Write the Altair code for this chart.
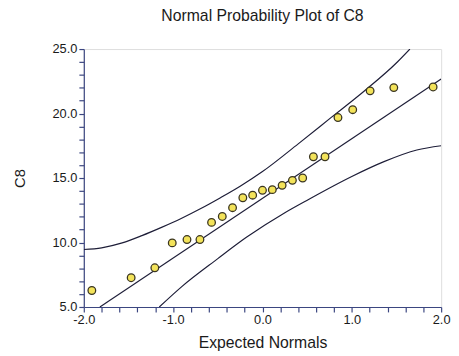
import altair as alt
import pandas as pd

normals = [-1.91, -1.47, -1.205, -1.01, -0.845, -0.70, -0.57, -0.45, -0.335, -0.22, -0.11, 0.0,
           0.11, 0.22, 0.335, 0.45, 0.57, 0.70, 0.845, 1.01, 1.205, 1.47, 1.91]
c8 = [6.28, 7.27, 8.04, 9.97, 10.23, 10.23, 11.56, 12.02, 12.70, 13.47, 13.67, 14.05,
      14.10, 14.43, 14.82, 15.0, 16.65, 16.65, 19.69, 20.30, 21.76, 22.01, 22.06]

# Fitted line (end points)
fit_x = [-1.82, 2.0]
fit_y = [5.0, 22.68]

# Upper confidence band
upper_x = [-2.0, -1.8, -1.57, -1.35, -1.13, -0.91, -0.69, -0.47, -0.25, 0.0, 0.4, 0.77, 1.14, 1.51, 1.65]
upper_y = [9.46, 9.59, 9.97, 10.53, 11.17, 11.86, 12.63, 13.47, 14.36, 15.5, 17.65, 19.7, 21.75, 24.0, 25.0]

# Lower confidence band
lower_x = [-1.155, -0.9, -0.5, -0.18, 0.26, 0.516, 0.994, 1.36, 1.728, 2.0]
lower_y = [5.0, 6.6, 8.75, 10.4, 12.35, 13.34, 15.1, 16.27, 17.17, 17.5]

x_ticks = [round(-2 + 0.2 * i, 1) for i in range(21)]
y_ticks = list(range(5, 26))

pts = pd.DataFrame({"x": normals, "y": c8})
fit = pd.DataFrame({"x": fit_x, "y": fit_y})
up = pd.DataFrame({"x": upper_x, "y": upper_y})
lo = pd.DataFrame({"x": lower_x, "y": lower_y})

FONT = "Liberation Sans"
AXIS_COL = "#3b4680"
LINE_COL = "#1e1e38"

xscale = alt.Scale(domain=[-2, 2], nice=False, zero=False)
yscale = alt.Scale(domain=[5, 25], nice=False, zero=False)

xaxis = alt.Axis(
    values=x_ticks, tickCount=60, title="Expected Normals", grid=False, labelOverlap=False,
    labelExpr="abs(datum.value - round(datum.value)) < 0.001 ? replace(format(datum.value, '.1f'), '\u2212', '-') : ''",
    domainColor=AXIS_COL, tickColor=AXIS_COL, tickSize=5, domainWidth=1.2, tickWidth=1.2,
    labelFont=FONT, labelFontSize=13, labelColor="#1a1a1a", labelPadding=2, labelFlush=False,
    titleFont=FONT, titleFontSize=16, titleFontWeight="normal", titleColor="#1a1a1a",
    titleY=41, titleBaseline="alphabetic",
)
yaxis = alt.Axis(
    values=y_ticks, tickCount=60, title="C8", grid=False, labelOverlap=False,
    labelExpr="datum.value % 5 == 0 ? format(datum.value, '.1f') : ''",
    domainColor=AXIS_COL, tickColor=AXIS_COL, tickSize=5, domainWidth=1.2, tickWidth=1.2,
    labelFont=FONT, labelFontSize=13, labelColor="#1a1a1a", labelPadding=2, labelFlush=False,
    titleFont=FONT, titleFontSize=15, titleFontWeight="normal", titleColor="#1a1a1a",
    titleX=-65, titleY=131, titleAngle=270, titleBaseline="middle", titleAlign="center",
)

fit_line = alt.Chart(fit).mark_line(color=LINE_COL, strokeWidth=1.2, clip=True).encode(
    x=alt.X("x:Q", scale=xscale, axis=xaxis),
    y=alt.Y("y:Q", scale=yscale, axis=yaxis),
)
up_line = alt.Chart(up).mark_line(color=LINE_COL, strokeWidth=1.2, interpolate="monotone", clip=True).encode(
    x=alt.X("x:Q", scale=xscale), y=alt.Y("y:Q", scale=yscale)
)
lo_line = alt.Chart(lo).mark_line(color=LINE_COL, strokeWidth=1.2, interpolate="monotone", clip=True).encode(
    x=alt.X("x:Q", scale=xscale), y=alt.Y("y:Q", scale=yscale)
)
points = alt.Chart(pts).mark_point(
    filled=True, fill="#f3e35a", stroke="#3a3520", strokeWidth=1.3, size=60, opacity=1
).encode(x=alt.X("x:Q", scale=xscale), y=alt.Y("y:Q", scale=yscale))

chart = alt.layer(fit_line, up_line, lo_line, points).properties(
    width=363, height=262,
    title=alt.TitleParams(
        "Normal Probability Plot of C8", font=FONT, fontSize=16, fontWeight="normal",
        color="#1a1a1a", anchor="middle", frame="group", offset=7, baseline="alphabetic",
    ),
    autosize=alt.AutoSizeParams(type="none"),
    padding={"left": 77, "top": 39, "right": 10, "bottom": 42},
).configure_view(stroke=None).configure(background="white")

chart.save("out.html", embed_options={"renderer": "svg", "actions": False})
